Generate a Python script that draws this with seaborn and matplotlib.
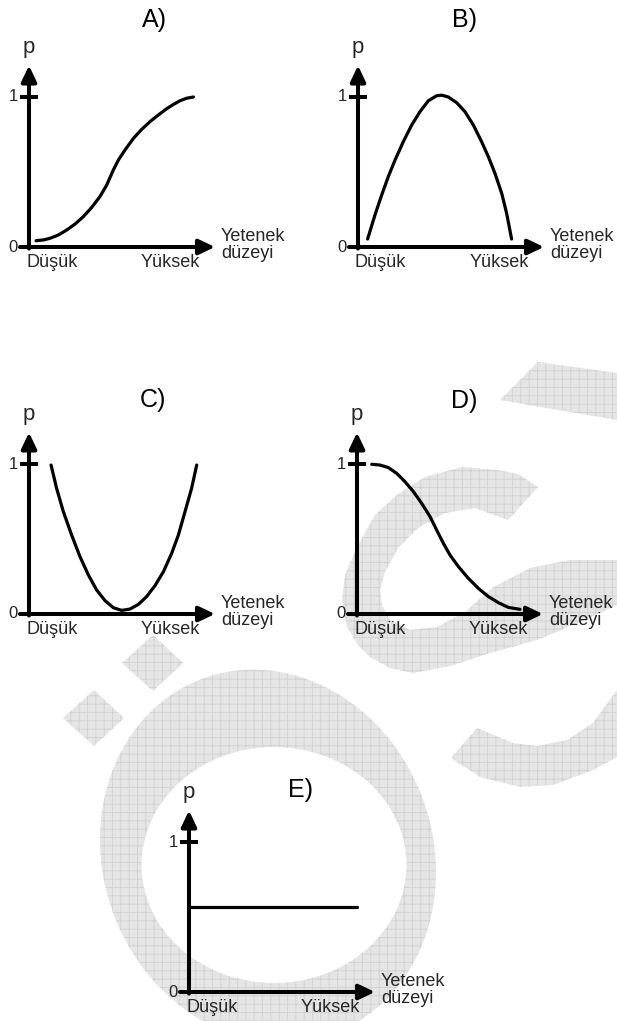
import matplotlib
matplotlib.use('Agg')
import matplotlib.pyplot as plt
import seaborn as sns
from matplotlib.patches import Polygon, Ellipse

# ---- data ----
panel_titles = ['A)', 'B)', 'C)', 'D)', 'E)']
x_low_label = 'Düşük'
x_high_label = 'Yüksek'
x_axis_label = ['Yetenek', 'düzeyi']
y_axis_label = 'p'
y_tick_values = [0, 1]
y_tick_labels = ['0', '1']

# A) rising s-curve
curve_a_x = [0.047, 0.096, 0.14, 0.196, 0.251, 0.307, 0.362, 0.418, 0.473, 0.518, 0.562,
             0.596, 0.64, 0.696, 0.751, 0.807, 0.862, 0.918, 0.962, 1.007, 1.051, 1.096]
curve_a_p = [0.042, 0.047, 0.058, 0.08, 0.113, 0.153, 0.202, 0.264, 0.336, 0.413, 0.513,
             0.58, 0.647, 0.724, 0.784, 0.836, 0.88, 0.922, 0.95, 0.975, 0.992, 1.0]

# B) hump
curve_b_x = [0.064, 0.113, 0.158, 0.202, 0.247, 0.302, 0.358, 0.413, 0.469, 0.524, 0.558,
             0.602, 0.658, 0.713, 0.769, 0.824, 0.869, 0.913, 0.958, 0.991, 1.024]
curve_b_p = [0.053, 0.213, 0.347, 0.469, 0.58, 0.702, 0.813, 0.902, 0.975, 1.008, 1.012,
             1.0, 0.962, 0.902, 0.813, 0.702, 0.602, 0.491, 0.358, 0.224, 0.053]

# C) u-shape
curve_c_x = [0.147, 0.184, 0.229, 0.284, 0.34, 0.396, 0.451, 0.507, 0.562, 0.618,
             0.673, 0.729, 0.784, 0.84, 0.896, 0.951, 0.996, 1.04, 1.084, 1.118]
curve_c_p = [0.993, 0.838, 0.682, 0.527, 0.382, 0.26, 0.16, 0.089, 0.042, 0.024,
             0.033, 0.064, 0.116, 0.189, 0.282, 0.404, 0.527, 0.682, 0.838, 0.993]

# D) falling s-curve
curve_d_x = [0.098, 0.153, 0.209, 0.264, 0.32, 0.376, 0.431, 0.487, 0.531, 0.576,
             0.62, 0.676, 0.742, 0.809, 0.876, 0.942, 1.009, 1.087]
curve_d_p = [0.998, 0.993, 0.976, 0.938, 0.882, 0.816, 0.738, 0.649, 0.56, 0.471,
             0.393, 0.316, 0.238, 0.171, 0.116, 0.076, 0.044, 0.031]

# E) flat line
curve_e_x = [0.0, 1.118]
curve_e_p = [0.565, 0.565]

curves = [(curve_a_x, curve_a_p), (curve_b_x, curve_b_p), (curve_c_x, curve_c_p),
          (curve_d_x, curve_d_p), (curve_e_x, curve_e_p)]

# ---- layout (pixels) ----
W, H = 617, 1021
UNIT = 150          # px per data unit
X_LEN, Y_LEN = 1.24, 1.21
origins = [(29, 247), (358, 247), (29, 614), (357, 614), (189, 992)]
title_pos = [(154, 27), (464, 27), (153, 407), (464, 408), (301, 797)]

sns.set_style('white')
plt.rcParams['font.family'] = ['Liberation Sans', 'DejaVu Sans']
plt.rcParams['hatch.linewidth'] = 0.6

fig = plt.figure(figsize=(W / 100, H / 100), dpi=100)

# background axes in pixel coords (watermark + titles)
bg = fig.add_axes([0, 0, 1, 1])
bg.set_xlim(0, W)
bg.set_ylim(H, 0)
bg.axis('off')

wm_face = '#e5e5e5'
wm_grid = '#d0d0d0'


def wm_patch(patch):
    patch.set_facecolor(wm_face)
    patch.set_edgecolor(wm_grid)
    patch.set_hatch('++')
    patch.set_linewidth(0)
    bg.add_patch(patch)


# letter watermark, rough shapes
wm_patch(Polygon([(500, 400), (538, 362), (617, 373), (617, 420)]))
wm_patch(Polygon([(538, 487), (518, 474), (498, 470), (462, 467), (425, 477), (398, 494),
                  (375, 515), (357, 547), (345, 575), (342, 600), (347, 627), (358, 645),
                  (370, 657), (390, 668), (413, 673), (450, 666), (487, 654), (537, 640),
                  (580, 622), (617, 605), (617, 560), (570, 560), (530, 568), (492, 588),
                  (465, 612), (437, 627), (410, 630), (390, 620), (382, 605), (380, 590),
                  (385, 572), (398, 548), (418, 528), (445, 513), (475, 508), (508, 520)]))
wm_patch(Polygon([(477, 728), (513, 743), (537, 746), (567, 740), (593, 723), (617, 690),
                  (617, 757), (593, 770), (553, 785), (520, 787), (480, 777), (451, 758)]))
wm_patch(Polygon([(153, 635), (183, 663), (153, 691), (122, 663)]))
wm_patch(Polygon([(94, 690), (124, 718), (94, 746), (63, 718)]))
wm_patch(Ellipse((268, 856), 330, 378, angle=-20))
bg.add_patch(Ellipse((274, 865), 265, 236, angle=0, facecolor='white', edgecolor='none'))

for t, (tx, ty) in zip(panel_titles, title_pos):
    bg.text(tx, ty, t, fontsize=18, ha='center', va='baseline', color='black')

AX_LW = 2.9
for (ox, oy), (cx, cp) in zip(origins, curves):
    ax = fig.add_axes([ox / W, (H - oy) / H, X_LEN * UNIT / W, Y_LEN * UNIT / H])
    ax.set_xlim(0, X_LEN)
    ax.set_ylim(0, Y_LEN)
    ax.axis('off')

    arrow = dict(arrowstyle='-|>,head_length=0.8,head_width=0.38', color='black', lw=AX_LW,
                 shrinkA=0, shrinkB=0, mutation_scale=12)
    ax.annotate('', xy=(X_LEN, 0), xytext=(-0.06, 0), arrowprops=arrow, annotation_clip=False)
    ax.annotate('', xy=(0, Y_LEN), xytext=(0, -0.01), arrowprops=arrow, annotation_clip=False)
    ax.plot([-0.06, 0.06], [1, 1], color='black', lw=AX_LW, solid_capstyle='butt', clip_on=False)

    for v, lab in zip(y_tick_values, y_tick_labels):
        ax.text(-0.075, v, lab, fontsize=12, ha='right', va='center')

    ax.text(0, 1.293, y_axis_label, fontsize=16, ha='center', va='baseline')
    ax.text(-0.02, -0.133, x_low_label, fontsize=13, ha='left', va='baseline')
    ax.text(1.14, -0.133, x_high_label, fontsize=13, ha='right', va='baseline')
    ax.text(1.28, 0.042, x_axis_label[0], fontsize=13, ha='left', va='baseline')
    ax.text(1.28, -0.073, x_axis_label[1], fontsize=13, ha='left', va='baseline')

    sns.lineplot(x=cx, y=cp, ax=ax, color='black', linewidth=2.3, sort=False,
                 estimator=None, legend=False)
    for ln in ax.lines[-1:]:
        ln.set_clip_on(False)
        ln.set_solid_joinstyle('round')

fig.savefig('out.png', dpi=100)
